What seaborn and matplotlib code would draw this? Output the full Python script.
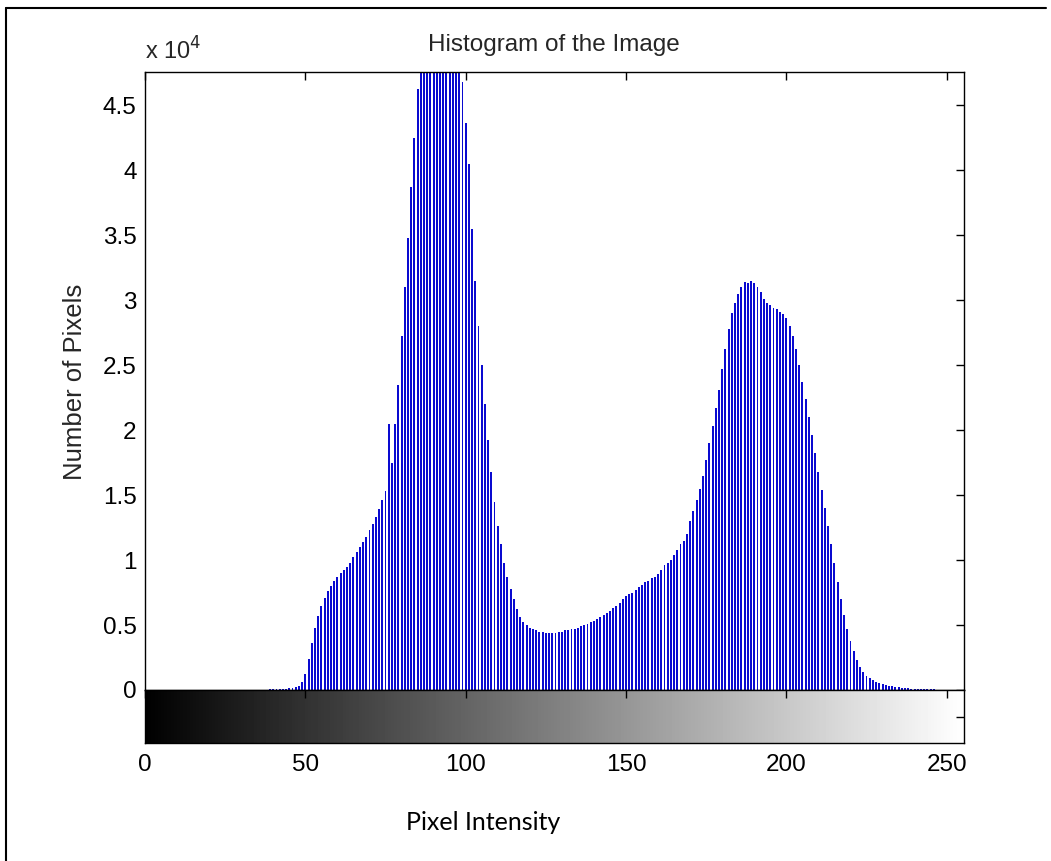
import numpy as np
import seaborn as sns
import matplotlib.pyplot as plt
from matplotlib.ticker import FuncFormatter
from matplotlib.lines import Line2D

# grey levels of an 8-bit image
levels = np.arange(256)

# pixel counts (x 10^4) for levels 38..248, all others are 0
first_level = 38
counts_e4 = [
    0.003, 0.004, 0.005, 0.006, 0.007, 0.008, 0.010, 0.012, 0.015, 0.020,   # 38-47
    0.030, 0.060, 0.120, 0.240, 0.360, 0.480, 0.570, 0.650, 0.710, 0.760,   # 48-57
    0.800, 0.840, 0.870, 0.900, 0.920, 0.950, 0.980, 1.020, 1.060, 1.100,   # 58-67
    1.140, 1.180, 1.230, 1.280, 1.330, 1.390, 1.460, 1.530, 2.050, 1.750,   # 68-77
    2.050, 2.350, 2.720, 3.100, 3.480, 3.870, 4.250, 4.620, 5.000, 5.200,   # 78-87
    5.500, 5.800, 6.000, 6.100, 6.100, 6.000, 5.900, 5.700, 5.500, 5.300,   # 88-97
    5.000, 4.680, 4.360, 4.050, 3.550, 3.150, 2.800, 2.500, 2.200, 1.920,   # 98-107
    1.680, 1.450, 1.260, 1.120, 0.980, 0.870, 0.780, 0.700, 0.620, 0.560,   # 108-117
    0.520, 0.500, 0.480, 0.470, 0.460, 0.450, 0.450, 0.440, 0.440, 0.440,   # 118-127
    0.440, 0.450, 0.450, 0.460, 0.460, 0.470, 0.470, 0.480, 0.490, 0.500,   # 128-137
    0.510, 0.520, 0.530, 0.550, 0.560, 0.580, 0.590, 0.610, 0.630, 0.650,   # 138-147
    0.670, 0.700, 0.720, 0.740, 0.750, 0.770, 0.790, 0.810, 0.830, 0.840,   # 148-157
    0.860, 0.870, 0.890, 0.920, 0.960, 0.980, 1.000, 1.040, 1.080, 1.120,   # 158-167
    1.150, 1.200, 1.300, 1.380, 1.460, 1.550, 1.650, 1.770, 1.900, 2.030,   # 168-177
    2.170, 2.310, 2.470, 2.620, 2.780, 2.900, 2.980, 3.050, 3.100, 3.140,   # 178-187
    3.130, 3.150, 3.130, 3.100, 3.060, 3.010, 2.980, 2.960, 2.940, 2.930,   # 188-197
    2.910, 2.890, 2.860, 2.800, 2.720, 2.620, 2.500, 2.370, 2.240, 2.100,   # 198-207
    1.960, 1.820, 1.680, 1.540, 1.400, 1.260, 1.120, 0.980, 0.830, 0.700,   # 208-217
    0.580, 0.470, 0.380, 0.300, 0.230, 0.180, 0.140, 0.110, 0.090, 0.075,   # 218-227
    0.062, 0.052, 0.044, 0.038, 0.032, 0.027, 0.023, 0.020, 0.017, 0.015,   # 228-237
    0.013, 0.011, 0.010, 0.009, 0.008, 0.007, 0.006, 0.005, 0.004, 0.003,   # 238-247
    0.002,                                                                  # 248
]

counts = np.zeros(256)
counts[first_level:first_level + len(counts_e4)] = np.array(counts_e4) * 1e4

x_ticks = [0, 50, 100, 150, 200, 250]
y_ticks = [0, 5000, 10000, 15000, 20000, 25000, 30000, 35000, 40000, 45000]

sns.set_style("white")
plt.rcParams['font.family'] = ['Liberation Sans', 'DejaVu Sans']

W, H = 1051, 861
fig = plt.figure(figsize=(W / 100, H / 100), dpi=100)

# histogram axes and the grey ramp below it (pixel positions from the reference)
ax = fig.add_axes([145 / W, 1 - 690 / H, (964 - 145) / W, (690 - 72) / H])
cax = fig.add_axes([145 / W, 1 - 743 / H, (964 - 145) / W, (743 - 690) / H])

sns.histplot(x=levels, weights=counts, discrete=True, shrink=0.6,
             color='#0a0ad0', edgecolor='none', linewidth=0, alpha=1, ax=ax)

ax.set_xlim(0, 255.4)
ax.set_ylim(0, 47540)
ax.set_xticks(x_ticks)
ax.set_yticks(y_ticks)
ax.yaxis.set_major_formatter(FuncFormatter(lambda v, p: '%g' % (v / 1e4)))
ax.tick_params(axis='both', direction='in', length=6, width=1, colors='black',
               top=True, right=True, labelsize=17.5, pad=6)
ax.tick_params(axis='x', labelbottom=False)
ax.set_xlabel('')
ax.set_ylabel('')
for s in ax.spines.values():
    s.set_color('black')
    s.set_linewidth(1.0)

# grey ramp
ramp = np.linspace(0, 1, 256)[None, :]
cax.imshow(ramp, cmap='gray', aspect='auto', extent=[0, 255, 0, 1])
cax.set_xlim(0, 255.4)
cax.set_ylim(0, 1)
cax.set_xticks(x_ticks)
cax.set_yticks([0.5])
cax.tick_params(axis='both', direction='in', length=6, width=1, colors='black',
                top=True, right=True, labelleft=False, labelsize=17.5, pad=8)
for s in cax.spines.values():
    s.set_color('black')
    s.set_linewidth(1.0)

# texts
fig.text(554 / W, 1 - 45 / H, 'Histogram of the Image', ha='center', va='center', fontsize=17.5)
fig.text(145 / W, 1 - 60 / H, r'x 10$^{4}$', ha='left', va='baseline', fontsize=17)
fig.text(75 / W, 1 - 382 / H, 'Number of Pixels', ha='center', va='center',
         rotation=90, fontsize=18.5)
fig.text(483 / W, 1 - 823 / H, 'Pixel Intensity', ha='center', va='center',
         fontsize=18, color='black', family=['Lato', 'DejaVu Sans'])

# frame around the figure (top and left edges visible in the reference)
fig.add_artist(Line2D([6 / W, 6 / W], [0, 1 - 8 / H], transform=fig.transFigure,
                      color='black', lw=1.5))
fig.add_artist(Line2D([6 / W, 1046 / W], [1 - 8 / H, 1 - 8 / H], transform=fig.transFigure,
                      color='black', lw=1.5))

fig.savefig('out.png', dpi=100)
